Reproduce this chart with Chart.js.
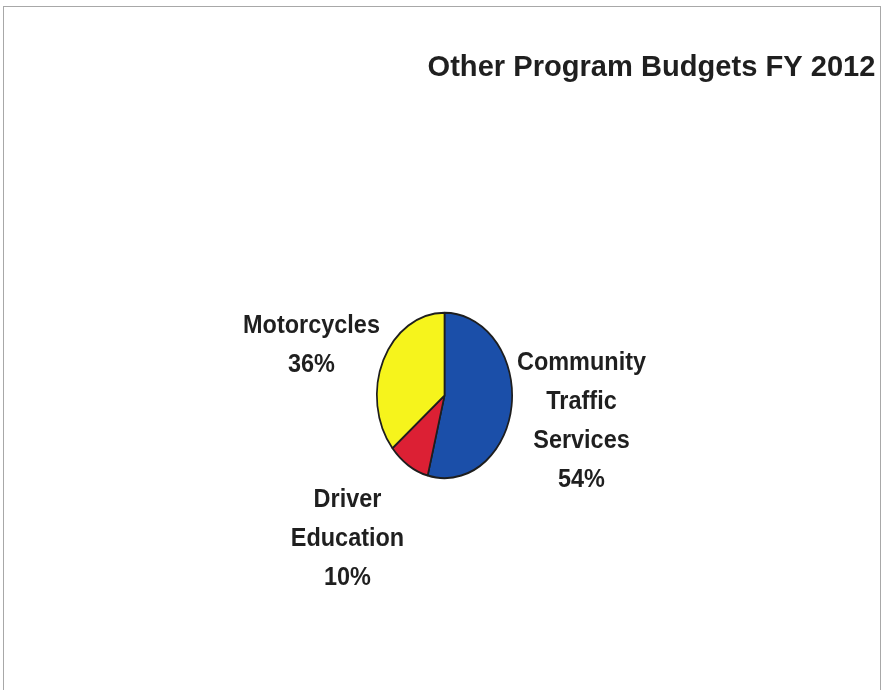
<!DOCTYPE html>
<html>
<head>
<meta charset="utf-8">
<script src="https://cdn.jsdelivr.net/npm/chart.js@4.4.1/dist/chart.umd.min.js"></script>
<style>
  html, body { margin:0; padding:0; background:#fff; }
  #frame { position:absolute; left:3px; top:6px; width:876px; height:690px; border:1px solid #a8a8a8; border-bottom:none; }
  #wrap { position:absolute; left:0; top:0; width:882px; height:690px; }
</style>
</head>
<body>
<div id="frame"></div>
<div id="wrap"><canvas id="budgetPie"></canvas></div>
<script>
// FY 2012 program budget split (percent)
const programs = ['Community Traffic Services', 'Driver Education', 'Motorcycles'];
const labelLines = [['Community', 'Traffic', 'Services'], ['Driver', 'Education'], ['Motorcycles']];
const shares = [54, 10, 36];
const sliceColors = ['#1b4fa9', '#dc2034', '#f6f41c'];
const chartTitle = 'Other Program Budgets FY 2012';

// where each label block sits, relative to pie centre (first line middle)
const labelSpots = [
  { dx: 137, dy: -33 },
  { dx: -97, dy: 104 },
  { dx: -133, dy: -70 },
];

const Y_STRETCH = 82.5 / 67.5;  // pie is drawn as an upright ellipse

const ellipsePlugin = {
  id: 'ellipse',
  beforeDatasetsDraw(chart) {
    const arc = chart.getDatasetMeta(0).data[0];
    const ctx = chart.ctx;
    ctx.save();
    ctx.translate(arc.x, arc.y);
    ctx.scale(1, Y_STRETCH);
    ctx.translate(-arc.x, -arc.y);
  },
  afterDatasetsDraw(chart) {
    chart.ctx.restore();
  }
};

// slightly condensed bold text, centred on (x, y)
function narrowText(ctx, text, x, y, squeeze) {
  ctx.save();
  ctx.translate(x, y);
  ctx.scale(squeeze, 1);
  ctx.fillText(text, 0, 0);
  ctx.restore();
}

const textPlugin = {
  id: 'texts',
  afterDraw(chart) {
    const ctx = chart.ctx;
    const arc = chart.getDatasetMeta(0).data[0];
    ctx.save();
    ctx.fillStyle = '#1f1f1f';
    ctx.textAlign = 'center';
    ctx.textBaseline = 'middle';

    ctx.font = 'bold 30px "Liberation Sans", Arial, sans-serif';
    narrowText(ctx, chartTitle, 651.5, 68, 0.97);

    ctx.font = 'bold 25.5px "Liberation Sans", Arial, sans-serif';
    shares.forEach((v, i) => {
      const lines = labelLines[i].concat([v + '%']);
      const spot = labelSpots[i];
      lines.forEach((t, j) => {
        narrowText(ctx, t, arc.x + spot.dx, arc.y + spot.dy + j * 39.3, 0.92);
      });
    });
    ctx.restore();
  }
};

new Chart(document.getElementById('budgetPie'), {
  type: 'pie',
  data: {
    labels: programs,
    datasets: [{
      data: shares,
      backgroundColor: sliceColors,
      borderColor: '#1e1e1e',
      borderWidth: 1.7,
      hoverOffset: 0
    }]
  },
  options: {
    responsive: true,
    maintainAspectRatio: false,
    animation: false,
    layout: { padding: { left: 376, right: 369, top: 327, bottom: 226 } },
    plugins: {
      legend: { display: false },
      tooltip: { enabled: false },
      title: { display: false }
    }
  },
  plugins: [ellipsePlugin, textPlugin]
});
</script>
</body>
</html>
